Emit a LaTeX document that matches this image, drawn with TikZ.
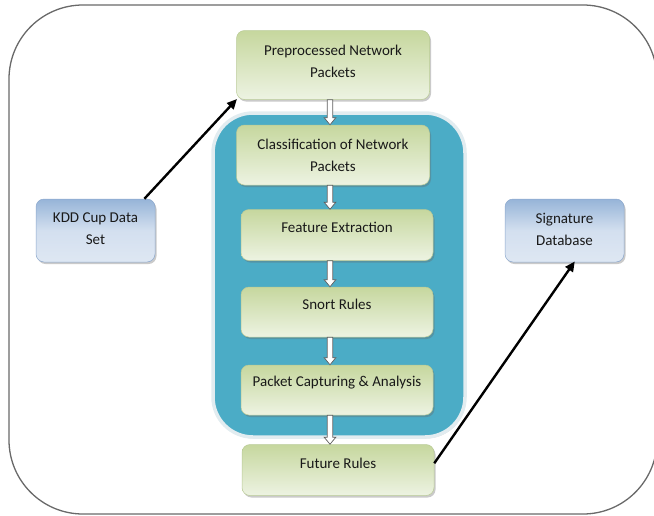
\documentclass[tikz,border=0pt]{standalone}
\usepackage{fontspec}
\setmainfont{Carlito}
\usetikzlibrary{shadows,calc,arrows.meta}
\definecolor{tealbox}{RGB}{75,172,198}
\definecolor{tealedge}{RGB}{226,236,240}
\definecolor{gdark}{RGB}{198,215,158}
\definecolor{glight}{RGB}{237,243,226}
\definecolor{gedge}{RGB}{185,202,150}
\definecolor{bdark}{RGB}{150,180,216}
\definecolor{blight}{RGB}{222,231,243}
\definecolor{bedge}{RGB}{140,168,205}
\definecolor{framegray}{RGB}{105,105,105}
\definecolor{arrowgray}{RGB}{95,95,95}
\definecolor{txtc}{RGB}{25,25,25}
\begin{document}
\begin{tikzpicture}[x=1pt,y=-1pt,
  txt/.style={font=\fontsize{15}{22}\selectfont, text=txtc, align=center},
  shadowed/.style={drop shadow={shadow xshift=1.5pt, shadow yshift=-2pt, opacity=0.35, fill=black!60}},
  gbox/.style={shadowed, rectangle, rounded corners=8pt, draw=gedge, line width=0.5pt,
    top color=gdark, bottom color=glight, minimum width=192pt, inner sep=0pt},
  bbox/.style={shadowed, rectangle, rounded corners=8pt, draw=bedge, line width=0.5pt,
    top color=bdark, bottom color=blight, middle color=blight!85!bdark, minimum width=119pt, minimum height=63pt, inner sep=0pt},
  hollow/.style={draw=arrowgray, fill=white, line width=0.7pt, line join=miter,
    to path={let \p1=(\tikztostart), \p2=(\tikztotarget) in
      (\x1+#1-2.8pt,\y1) -- (\x1+#1-2.8pt,\y2+7pt) -- (\x1+#1-5.8pt,\y2+7pt) -- (\x1+#1,\y2)
      -- (\x1+#1+5.8pt,\y2+7pt) -- (\x1+#1+2.8pt,\y2+7pt) -- (\x1+#1+2.8pt,\y1) -- cycle}},
  blk/.style={draw=black, line width=2.4pt, -{Triangle[length=10pt,width=9pt]}, shorten >=-1pt}
]
\useasboundingbox (0,0) rectangle (654,515);
% outer frame (right side runs just beyond the page edge)
\begin{scope}
\clip (0,0) rectangle (654,515);
\draw[framegray, line width=1.3pt, rounded corners=74pt] (657,150) -- (657,5) -- (9,5) -- (9,514) -- (657,514) -- (657,380);
\end{scope}
% container
\node[drop shadow={shadow xshift=1pt, shadow yshift=-1.5pt, opacity=0.3}, rectangle, rounded corners=40pt, fill=tealbox, draw=tealedge, line width=3.5pt,
  minimum width=252pt, minimum height=324pt] (cont) at (339,275) {};
% boxes
\node[gbox, minimum width=193pt, minimum height=69pt,
  label={[txt, yshift=3.5pt]center:Preprocessed Network\\Packets}] (pre) at (333,65) {};
\node[gbox, minimum width=193pt, minimum height=60pt,
  label={[txt]center:Classification of Network\\Packets}] (cls) at (333,155) {};
\node[gbox, minimum height=51pt,
  label={[txt, yshift=7.5pt]center:Feature Extraction}] (fe) at (337,235) {};
\node[gbox, minimum height=50pt,
  label={[txt, yshift=8pt]center:Snort Rules}] (sn) at (337,312) {};
\node[gbox, minimum height=50pt,
  label={[txt, yshift=7pt]center:Packet Capturing \& Analysis}] (pca) at (337,390) {};
\node[gbox, minimum height=51pt,
  label={[txt, yshift=7pt]center:Future Rules}] (fr) at (338,470) {};
\node[bbox, label={[txt, yshift=1.5pt]center:KDD Cup Data\\Set}] (kdd) at (95.5,230.5) {};
\node[bbox, label={[txt, yshift=1.5pt]center:Signature\\Database}] (sig) at (564.5,230.5) {};
% hollow arrows
\draw[hollow=-3pt] (pre.south) to (cls.north);
\draw[hollow=-3pt] (cls.south) to (fe.north);
\draw[hollow=-7pt] (fe.south) to (sn.north);
\draw[hollow=-7pt] (sn.south) to (pca.north);
\draw[hollow=-7pt] (pca.south) to (fr.north);
% black arrows
\draw[blk] (kdd.33) -- (pre.south west);
\draw[blk] (fr.4) -- (sig.287);
\end{tikzpicture}
\end{document}
